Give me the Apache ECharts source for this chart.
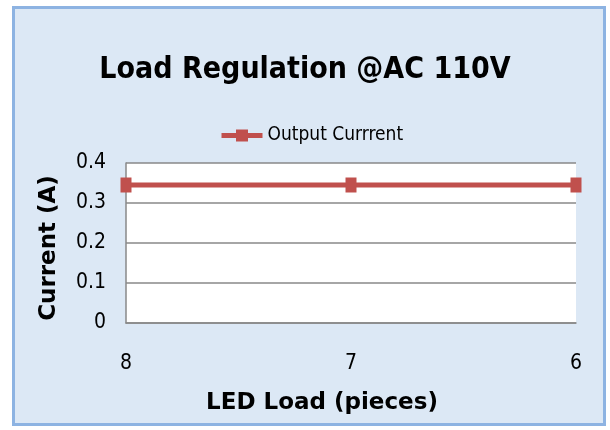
<!DOCTYPE html>
<html>
<head>
<meta charset="utf-8">
<script src="https://cdn.jsdelivr.net/npm/echarts@6/dist/echarts.min.js"></script>
<style>
  html, body { margin: 0; padding: 0; background: #fff; }
  #chart { width: 610px; height: 430px; }
</style>
</head>
<body>
<div id="chart"></div>
<script>
// LED load (pieces) on x, output current on y
const categories = ['8', '7', '6']
const outputCurrent = [0.345, 0.345, 0.345]
const yTicks = [0, 0.1, 0.2, 0.3, 0.4]

const narrow = '"DejaVu Sans Condensed", "Liberation Sans Narrow", sans-serif'
const heavy = '"DejaVu Sans", Verdana, sans-serif'

const chart = echarts.init(document.getElementById('chart'), null, { renderer: 'canvas' })

chart.setOption({
  animation: false,
  backgroundColor: '#fff',
  graphic: [{
    type: 'rect',
    z: -10,
    silent: true,
    shape: { x: 13.5, y: 7.5, width: 591, height: 417 },
    style: { fill: '#dce8f5', stroke: '#8db3e2', lineWidth: 3 }
  }],
  title: {
    text: 'Load Regulation @AC 110V',
    left: 'center',
    top: 50,
    textStyle: { fontFamily: narrow, fontWeight: 'bold', fontSize: 30, color: '#000' }
  },
  legend: {
    left: 214,
    top: 121,
    itemWidth: 41,
    itemHeight: 15,
    itemGap: 5,
    lineStyle: { width: 5 },
    textStyle: { fontFamily: narrow, fontSize: 19, color: '#000' },
    data: ['Output Currrent']
  },
  grid: {
    left: 126,
    right: 34,
    top: 163,
    bottom: 107,
    show: true,
    backgroundColor: '#fff',
    borderWidth: 0
  },
  xAxis: {
    type: 'category',
    data: categories,
    boundaryGap: false,
    name: 'LED Load (pieces)',
    nameLocation: 'middle',
    nameGap: 69,
    nameTextStyle: { fontFamily: heavy, fontWeight: 'bold', fontSize: 23, color: '#000', padding: [0, 58, 0, 0] },
    axisLine: { show: true, lineStyle: { color: '#888', width: 1.5 } },
    axisTick: { show: false },
    axisLabel: { margin: 30, fontFamily: narrow, fontSize: 21, color: '#000' },
    splitLine: { show: false }
  },
  yAxis: {
    type: 'value',
    min: yTicks[0],
    max: yTicks[yTicks.length - 1],
    interval: 0.1,
    name: 'Current (A)',
    nameLocation: 'middle',
    nameGap: 65,
    nameTextStyle: { fontFamily: heavy, fontWeight: 'bold', fontSize: 23, color: '#000', padding: [0, 10, 0, 0] },
    axisLine: { show: true, lineStyle: { color: '#888', width: 1.5 } },
    axisTick: { show: false },
    axisLabel: { margin: 20, fontFamily: narrow, fontSize: 21, color: '#000' },
    splitLine: { show: true, lineStyle: { color: '#888', width: 1.5 } }
  },
  series: [{
    name: 'Output Currrent',
    type: 'line',
    data: outputCurrent,
    symbol: 'rect',
    symbolSize: [11, 15],
    itemStyle: { color: '#c0504d' },
    lineStyle: { color: '#c0504d', width: 5 }
  }]
})
</script>
</body>
</html>
